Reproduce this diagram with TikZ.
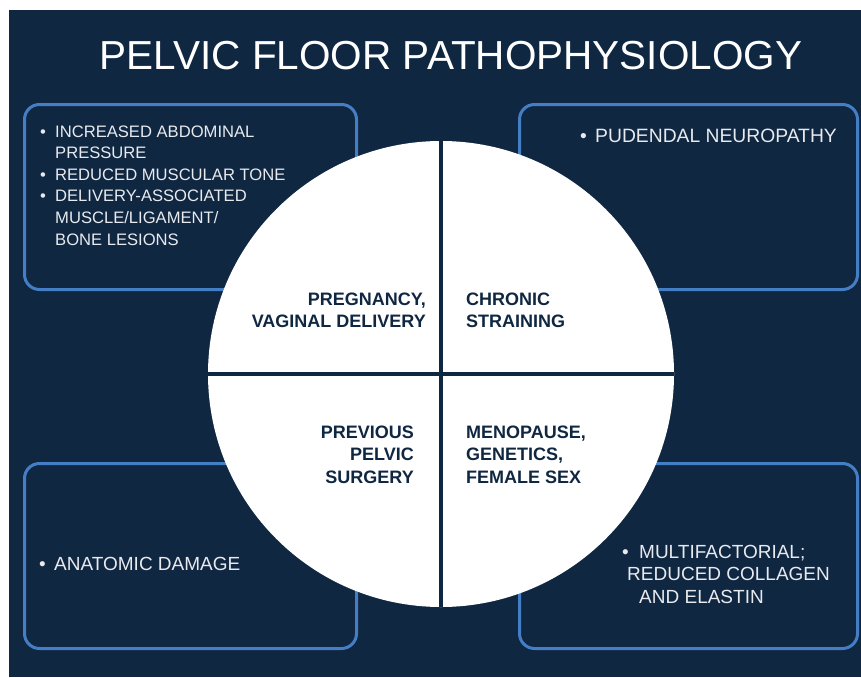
\documentclass[tikz,border=0pt]{standalone}
\usepackage{fontspec}
\setmainfont{Liberation Sans}

\definecolor{navy}{RGB}{16,39,66}
\definecolor{edgeblue}{RGB}{68,126,196}
\definecolor{pale}{RGB}{232,234,238}

% bullet with a fixed gap before the item text
\newcommand{\bul}{\makebox[15pt][l]{\textbullet}}
\newcommand{\ind}{\hspace*{15pt}}

\tikzset{
  panel/.style={draw=edgeblue, line width=3pt, rounded corners=15pt,
    minimum width=332pt, minimum height=185pt, anchor=north west},
  factor/.style={text=pale, inner sep=0pt, align=left, anchor=base west},
  cause/.style={text=navy, inner sep=0pt,
    font=\bfseries\fontsize{18}{22.5}\selectfont},
}

\begin{document}
\begin{tikzpicture}[x=1pt,y=-1pt]
\useasboundingbox (0,0) rectangle (861,677);
\fill[navy] (9,10) rectangle (861,677);

\node[text=white, inner sep=0pt, anchor=base, font=\fontsize{40.5}{48}\selectfont]
  (title) at (451,69) {PELVIC FLOOR PATHOPHYSIOLOGY};

% the four outer panels
\node[panel] (pregbox) at (23,103) {};
\node[panel, minimum width=338pt] (strainbox) at (518,103) {};
\node[panel] (surgbox) at (23,462) {};
\node[panel, minimum width=338pt] (menobox) at (518,462) {};

% multi-line nodes sit on the baseline of their last line
\node[factor, font=\fontsize{16.6}{21.6}\selectfont] (pregtext) at (40,245)
  {\bul INCREASED ABDOMINAL\\\ind PRESSURE\\\bul REDUCED MUSCULAR TONE\\
   \bul DELIVERY-ASSOCIATED\\\ind MUSCLE/LIGAMENT/\\\ind BONE LESIONS};
\node[factor, font=\fontsize{19.3}{22.5}\selectfont] (straintext) at (580,142)
  {\bul PUDENDAL NEUROPATHY};
\node[factor, font=\fontsize{19}{22.5}\selectfont] (surgtext) at (39,570)
  {\bul ANATOMIC DAMAGE};

% central disc split in four
\node[circle, fill=white, minimum size=466pt, inner sep=0pt] (disc) at (441,374) {};
\draw[navy, line width=4.5pt] (disc.north) -- (disc.south);
\draw[navy, line width=4pt] (disc.west) -- (disc.east);

\node[factor, font=\fontsize{19}{22.5}\selectfont] (menotext) at (622,603)
  {\makebox[17pt][l]{\textbullet}MULTIFACTORIAL;\\\hspace*{5pt}REDUCED COLLAGEN\\
   \hspace*{17pt}AND ELASTIN};

\node[cause, align=right, anchor=base east] (preg) at (426,327.5)
  {PREGNANCY,\\VAGINAL DELIVERY};
\node[cause, align=left, anchor=base west] (strain) at (466,327.5)
  {CHRONIC\\STRAINING};
\node[cause, align=right, anchor=base east] (surg) at (414,483)
  {PREVIOUS\\PELVIC\\SURGERY};
\node[cause, align=left, anchor=base west] (meno) at (466,483)
  {MENOPAUSE,\\GENETICS,\\FEMALE SEX};
\end{tikzpicture}
\end{document}
